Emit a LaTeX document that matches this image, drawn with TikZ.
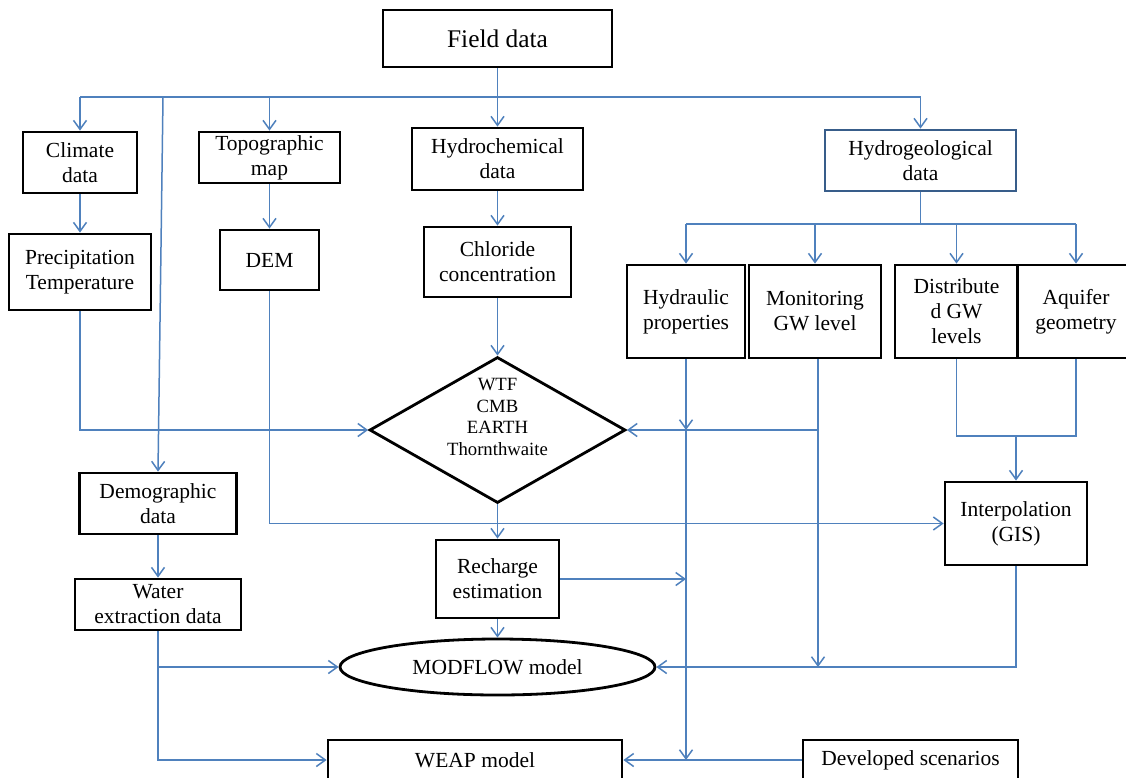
\documentclass[tikz,border=0pt]{standalone}
\usepackage{fontspec}
\setmainfont{Liberation Serif}
\usetikzlibrary{shapes.geometric,arrows.meta}
\definecolor{conn}{RGB}{79,129,189}
\definecolor{hgeo}{RGB}{56,93,138}
\begin{document}
\begin{tikzpicture}[x=1pt,y=-1pt,
  box/.style={draw=black, line width=2.8pt, align=center, inner sep=0pt,
    font=\fontsize{21.5}{25}\selectfont},
  lnk/.style={draw=conn, line width=1.5pt},
  arr/.style={lnk, -{Straight Barb[length=9pt,width=13pt]}}]
\useasboundingbox (0,0) rectangle (1126,777);
\fill[white] (0,0) rectangle (1126,777);
% nodes
\node[box, minimum width=229pt, minimum height=57pt, font=\fontsize{25.4}{29}\selectfont] (field) at (497.5,38.5) {Field data};
\node[box, minimum width=114pt, minimum height=61pt] (climate) at (80,162.5) {Climate\\data};
\node[box, minimum width=142pt, minimum height=76pt] (precip) at (80,272) {Precipitation\\Temperature};
\node[box, minimum width=141pt, minimum height=51pt] (topo) at (269.5,157.5) {Topographic\\map};
\node[box, minimum width=99pt, minimum height=60pt] (dem) at (269.5,260) {DEM};
\node[box, minimum width=171pt, minimum height=62pt] (hydrochem) at (497.5,159) {Hydrochemical\\data};
\node[box, minimum width=147pt, minimum height=70pt] (chloride) at (497.5,262) {Chloride\\concentration};
\node[diamond, draw=black, line width=2.8pt, minimum width=256pt, minimum height=146pt, inner sep=0pt] (diam) at (497.5,430) {};
\node[align=center, inner sep=0pt, font=\fontsize{18.7}{21.7}\selectfont] (diamtext) at (497.5,417) {WTF\\CMB\\EARTH\\Thornthwaite};
\node[box, draw=hgeo, minimum width=191pt, minimum height=61pt] (hydrogeo) at (920.5,160.5) {Hydrogeological\\data};
\node[box, minimum width=118pt, minimum height=93pt] (hydraulic) at (686,311.5) {Hydraulic\\properties};
\node[box, minimum width=132pt, minimum height=93pt] (monitoring) at (815,311.5) {Monitoring\\GW level};
\node[box, minimum width=123pt, minimum height=93pt] (distributed) at (956.5,311.5) {Distribute\\d GW\\levels};
\node[box, minimum width=118pt, minimum height=93pt] (aquifer) at (1076,311.5) {Aquifer\\geometry};
\node[box, minimum width=142pt, minimum height=83pt] (interp) at (1016,523.5) {Interpolation\\(GIS)};
\node[box, minimum width=157pt, minimum height=61pt] (demog) at (158,503.5) {Demographic\\data};
\node[box, minimum width=166pt, minimum height=51pt] (water) at (158,604.5) {Water\\extraction data};
\node[box, minimum width=123pt, minimum height=78pt] (recharge) at (497.5,579) {Recharge\\estimation};
\node[box, ellipse, minimum width=315pt, minimum height=56pt] (modflow) at (497.5,667) {MODFLOW model};
\node[box, minimum width=294pt, minimum height=40pt] (weap) at (475,760) {WEAP model};
\node[box, minimum width=215pt, minimum height=40pt] (dev) at (910.5,760) {Developed scenarios};
% helper coordinates
\coordinate (topy) at (0,97);
\coordinate (bry) at (0,224);
\coordinate (jy) at (0,436);
% top distribution
\draw[arr] (field) -- (hydrochem);
\draw[lnk] (climate.north |- topy) -- (hydrogeo.north |- topy);
\draw[arr] (climate.north |- topy) -- (climate.north);
\draw[arr] (topo.north |- topy) -- (topo.north);
\draw[arr] (hydrogeo.north |- topy) -- (hydrogeo.north);
\draw[arr] ([xshift=5pt]demog.north |- topy) -- (demog.north);
% left columns
\draw[arr] (climate) -- (precip);
\draw[arr] (topo) -- (dem);
\draw[arr] (hydrochem) -- (chloride);
\draw[arr] (chloride) -- (diam);
\draw[arr] (precip.south) |- (diam.west);
\draw[arr] (dem.south) |- (interp.west);
\draw[arr] (diam) -- (recharge);
\draw[arr] (recharge) -- (modflow);
\draw[arr] (demog) -- (water);
\draw[arr] (water.south) |- (weap.west);
\draw[arr] (water.south |- modflow.west) -- (modflow.west);
% hydrogeological branch
\draw[lnk] (hydrogeo.south) -- (hydrogeo.south |- bry);
\draw[lnk] (hydraulic.north |- bry) -- (aquifer.north |- bry);
\draw[arr] (hydraulic.north |- bry) -- (hydraulic.north);
\draw[arr] (monitoring.north |- bry) -- (monitoring.north);
\draw[arr] (distributed.north |- bry) -- (distributed.north);
\draw[arr] (aquifer.north |- bry) -- (aquifer.north);
% hydraulic line
\draw[arr] (hydraulic.south) -- (hydraulic.south |- diam.east);
\draw[arr] (hydraulic.south |- diam.east) -- (hydraulic.south |- dev.west);
% monitoring line
\draw[arr] ([xshift=3pt]monitoring.south) -- ([xshift=3pt]monitoring.south |- modflow.east);
\draw[arr] ([xshift=3pt]monitoring.south |- diam.east) -- (diam.east);
% distributed + aquifer -> interpolation
\draw[lnk] (distributed.south) |- (interp.north |- jy) -| (aquifer.south);
\draw[arr] (interp.north |- jy) -- (interp.north);
\draw[arr] (interp.south) |- (modflow.east);
% recharge -> right
\draw[arr] (recharge.east) -- (hydraulic.south |- recharge.east);
% scenarios
\draw[arr] (dev.west) -- (weap.east);
\end{tikzpicture}
\end{document}
